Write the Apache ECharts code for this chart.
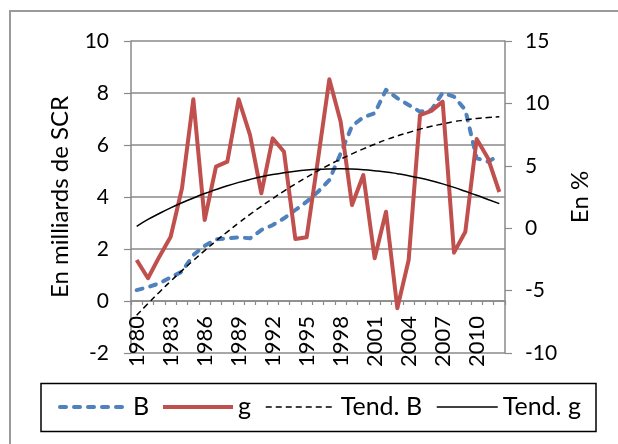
<!DOCTYPE html>
<html>
<head>
<meta charset="utf-8">
<script src="https://cdn.jsdelivr.net/npm/echarts@6/dist/echarts.min.js"></script>
<style>
  html, body { margin: 0; padding: 0; background: #fff; }
  #chart { width: 618px; height: 444px; }
</style>
</head>
<body>
<div id="chart"></div>
<script>
// Years on the category axis
const years = ['1980','1981','1982','1983','1984','1985','1986','1987','1988','1989',
  '1990','1991','1992','1993','1994','1995','1996','1997','1998','1999',
  '2000','2001','2002','2003','2004','2005','2006','2007','2008','2009',
  '2010','2011','2012'];

// B, in billions of SCR (left axis)
const seriesB = [0.42, 0.53, 0.68, 0.91, 1.13, 1.77, 2.12, 2.37, 2.41, 2.45,
  2.41, 2.73, 2.92, 3.18, 3.5, 3.82, 4.2, 4.65, 5.68, 6.73,
  7.07, 7.22, 8.12, 7.8, 7.54, 7.28, 7.35, 8.01, 7.86, 7.35,
  5.49, 5.36, 5.6];

// g, in percent (right axis)
const seriesG = [-2.55, -4.01, -2.28, -0.68, 3.2, 10.33, 0.66, 4.93, 5.33, 10.33,
  7.47, 2.8, 7.2, 6.13, -0.87, -0.73, 5.5, 11.93, 8.53, 1.86,
  4.26, -2.41, 1.32, -6.42, -2.55, 9.07, 9.4, 10.14, -1.96, -0.28,
  7.15, 5.6, 2.9];

// Trend of B (left axis)
const trendB = [-0.55, -0.1, 0.34, 0.76, 1.17, 1.56, 1.94, 2.31, 2.66, 3.0,
  3.33, 3.64, 3.94, 4.23, 4.5, 4.76, 5.01, 5.24, 5.46, 5.66,
  5.85, 6.03, 6.2, 6.35, 6.48, 6.61, 6.72, 6.81, 6.9, 6.96,
  7.02, 7.06, 7.09];

// Trend of g (right axis)
const trendG = [0.15, 0.7, 1.18, 1.63, 2.04, 2.42, 2.78, 3.1, 3.4, 3.67,
  3.91, 4.12, 4.3, 4.45, 4.57, 4.66, 4.72, 4.75, 4.76, 4.74,
  4.69, 4.61, 4.51, 4.37, 4.21, 4.02, 3.8, 3.55, 3.27, 2.96,
  2.64, 2.3, 1.97];

// Axis ticks
const leftTicks = { min: -2, max: 10, interval: 2 };
const rightTicks = { min: -10, max: 15, interval: 5 };

const FONT = 'Lato';
const AXIS_GRAY = '#8a8a8a';
const BLUE = '#4F81BD';
const RED = '#C0504D';
const PLOT_HEIGHT = 312;   // grid height in px (444 - 41 - 91)

// The year axis sits on the left scale's zero line
const zeroShift = -PLOT_HEIGHT * (0 - leftTicks.min) / (leftTicks.max - leftTicks.min);

const styleB = { color: BLUE, width: 4, type: [6, 8], cap: 'round', join: 'round' };
const styleG = { color: RED, width: 4, join: 'round' };
const styleTrendB = { color: '#000', width: 1.5, type: [6, 4] };
const styleTrendG = { color: '#000', width: 1.5 };

const chart = echarts.init(document.getElementById('chart'), null, { renderer: 'canvas' });

function legendAt(name, left, width, lineStyle) {
  return {
    data: [name],
    left: left,
    top: 393,
    orient: 'horizontal',
    padding: 0,
    itemWidth: width,
    itemHeight: 10,
    selectedMode: false,
    itemStyle: { opacity: 0 },
    lineStyle: lineStyle,
    textStyle: { fontFamily: FONT, fontSize: 25, color: '#000', lineHeight: 28 }
  };
}

chart.setOption({
  animation: false,
  backgroundColor: '#fff',
  textStyle: { fontFamily: FONT },
  graphic: [
    {
      type: 'rect',
      z: -10,
      shape: { x: 10, y: 11, width: 700, height: 500 },
      style: { fill: 'none', stroke: '#9a9a9a', lineWidth: 2 }
    },
    {
      type: 'rect',
      z: -5,
      shape: { x: 41, y: 383.5, width: 555, height: 48 },
      style: { fill: 'none', stroke: '#000', lineWidth: 1.5 }
    }
  ],
  legend: [
    legendAt('B', 58, 68, styleB),
    legendAt('g', 161, 70, styleG),
    legendAt('Tend. B', 265, 70, styleTrendB),
    legendAt('Tend. g', 436, 61, styleTrendG)
  ],
  grid: { left: 131, right: 113, top: 41, bottom: 91, containLabel: false },
  xAxis: {
    type: 'category',
    data: years,
    boundaryGap: true,
    position: 'bottom',
    offset: zeroShift,
    axisLine: { onZero: false, lineStyle: { color: AXIS_GRAY, width: 1.5 } },
    axisTick: { show: true, interval: 0, length: 4, lineStyle: { color: AXIS_GRAY, width: 1.2 } },
    axisLabel: {
      interval: 2, rotate: 90, margin: 15,
      fontFamily: FONT, fontSize: 22, color: '#000'
    },
    splitLine: { show: false }
  },
  yAxis: [
    {
      type: 'value',
      min: leftTicks.min, max: leftTicks.max, interval: leftTicks.interval,
      name: 'En milliards de SCR',
      nameLocation: 'middle',
      nameGap: 59,
      nameRotate: 90,
      nameTextStyle: { fontFamily: FONT, fontSize: 24, color: '#000' },
      axisLine: { show: true, onZero: false, lineStyle: { color: AXIS_GRAY, width: 1.5 } },
      axisTick: { show: true, length: 7, lineStyle: { color: AXIS_GRAY, width: 1.2 } },
      axisLabel: { margin: 22, fontFamily: FONT, fontSize: 21, color: '#000' },
      splitLine: { show: true, lineStyle: { color: AXIS_GRAY, width: 1.5 } }
    },
    {
      type: 'value',
      position: 'right',
      min: rightTicks.min, max: rightTicks.max, interval: rightTicks.interval,
      name: 'En %',
      nameLocation: 'middle',
      nameGap: 62,
      nameRotate: 90,
      nameTextStyle: { fontFamily: FONT, fontSize: 24, color: '#000' },
      axisLine: { show: true, onZero: false, lineStyle: { color: AXIS_GRAY, width: 1.5 } },
      axisTick: { show: true, length: 7, lineStyle: { color: AXIS_GRAY, width: 1.2 } },
      axisLabel: { margin: 20, fontFamily: FONT, fontSize: 21, color: '#000' },
      splitLine: { show: false }
    }
  ],
  series: [
    {
      name: 'B',
      type: 'line',
      yAxisIndex: 0,
      data: seriesB,
      symbol: 'none',
      itemStyle: { color: BLUE },
      lineStyle: styleB,
      z: 2
    },
    {
      name: 'g',
      type: 'line',
      yAxisIndex: 1,
      data: seriesG,
      symbol: 'none',
      itemStyle: { color: RED },
      lineStyle: styleG,
      z: 3
    },
    {
      name: 'Tend. B',
      type: 'line',
      yAxisIndex: 0,
      data: trendB,
      smooth: true,
      symbol: 'none',
      itemStyle: { color: '#000' },
      lineStyle: styleTrendB,
      z: 4
    },
    {
      name: 'Tend. g',
      type: 'line',
      yAxisIndex: 1,
      data: trendG,
      smooth: true,
      symbol: 'none',
      itemStyle: { color: '#000' },
      lineStyle: styleTrendG,
      z: 4
    }
  ]
});
</script>
</body>
</html>
